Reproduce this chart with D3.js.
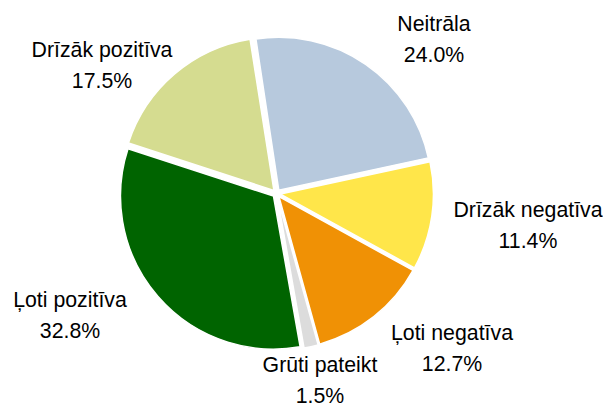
<!DOCTYPE html>
<meta charset="utf-8">
<style>
body { margin: 0; background: #fff; }
.lbl { font-family: "Liberation Sans", Arial, sans-serif; font-size: 21.3px; fill: #000; }
</style>
<body>
<script src="https://d3js.org/d3.v7.min.js"></script>
<script>

// data
var labels = ["Neitrāla", "Drīzāk negatīva", "Ļoti negatīva", "Grūti pateikt", "Ļoti pozitīva", "Drīzāk pozitīva"];
var values = [24.0, 11.4, 12.7, 1.5, 32.8, 17.5];
var colors = ["#b7c9dd", "#ffe64a", "#f09105", "#dcdcdc", "#006400", "#d5dc90"];
// label anchor points (centre x, first baseline y)
var labelPos = [[434, 31], [528, 217], [452, 340], [320, 372], [70, 307], [102, 57]];

var width = 603, height = 408;
var cx = 276.5, cy = 193.5, radius = 153, explode = 4;

var svg = d3.select("body").append("svg")
    .attr("width", width)
    .attr("height", height);

var startAngle = -8.6 * Math.PI / 180;
var total = d3.sum(values);

var pie = d3.pie()
    .sort(null)
    .startAngle(startAngle)
    .endAngle(startAngle + 2 * Math.PI * total / 100)
    .value(function(d) { return d; });

var arc = d3.arc().innerRadius(0).outerRadius(radius);

var arcs = pie(values);

var g = svg.append("g")
    .attr("transform", "translate(" + cx + "," + cy + ")");

g.selectAll("path")
    .data(arcs)
  .enter().append("path")
    .attr("d", arc)
    .attr("fill", function(d, i) { return colors[i]; })
    .attr("stroke", "#fff")
    .attr("stroke-width", 1.5)
    .attr("transform", function(d) {
      var a = (d.startAngle + d.endAngle) / 2;
      return "translate(" + (Math.sin(a) * explode) + "," + (-Math.cos(a) * explode) + ")";
    });

// labels
var lg = svg.selectAll(".lblg")
    .data(arcs)
  .enter().append("g");

lg.append("text")
    .attr("class", "lbl")
    .attr("text-anchor", "middle")
    .attr("x", function(d, i) { return labelPos[i][0]; })
    .attr("y", function(d, i) { return labelPos[i][1]; })
    .text(function(d, i) { return labels[i]; });

lg.append("text")
    .attr("class", "lbl")
    .attr("text-anchor", "middle")
    .attr("x", function(d, i) { return labelPos[i][0]; })
    .attr("y", function(d, i) { return labelPos[i][1] + 31; })
    .text(function(d, i) { return values[i].toFixed(1) + "%"; });

</script>
</body>
